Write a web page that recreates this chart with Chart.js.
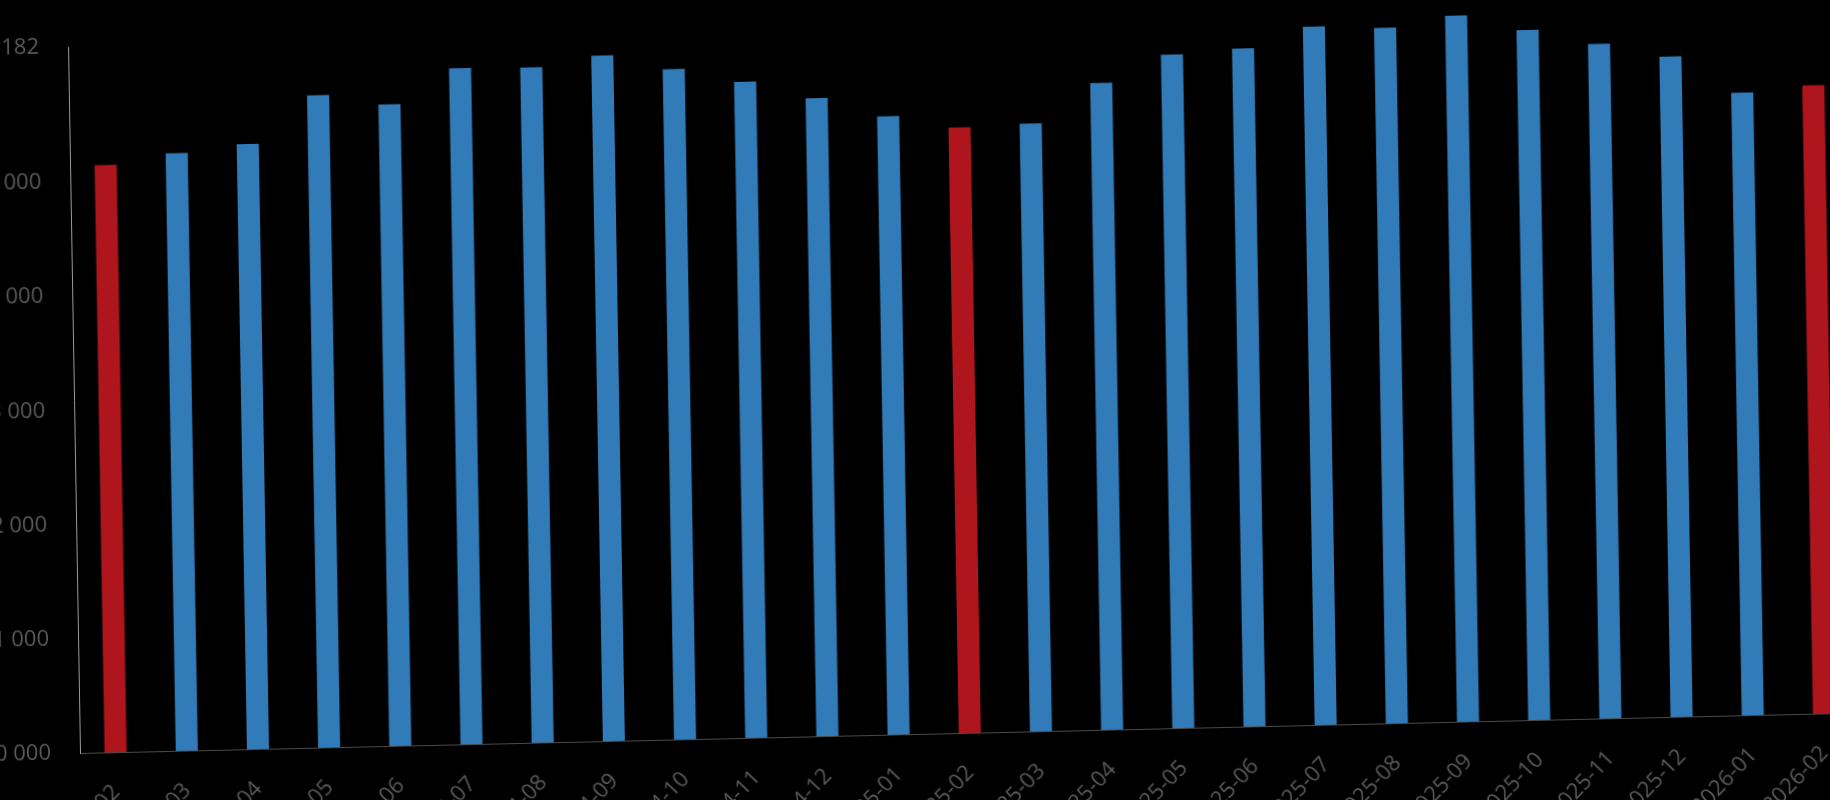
<!DOCTYPE html>
<html>
<head>
<meta charset="utf-8">
<title>Monthly count</title>
<script src="https://cdn.jsdelivr.net/npm/chart.js@4.4.1/dist/chart.umd.min.js"></script>
<style>
    html, body {
        margin: 0;
        padding: 0;
        background: #000;
        width: 1830px;
        height: 800px;
        overflow: hidden;
    }
    /* the reference is a slightly tilted shot of the chart,
       canvas is taller than the window so the labels get cut by the window edge */
    #wrap {
        position: absolute;
        left: 0;
        top: 0;
        width: 1900px;
        height: 880px;
        transform-origin: 80px 753px;
        transform: rotate(-1.3deg) skewX(-0.33deg);
    }
</style>
</head>
<body>
<div id="wrap">
    <canvas id="barChart" width="1900" height="880"></canvas>
</div>

<script>
// months shown on the x axis
const categories = [
    "2024-02", "2024-03", "2024-04", "2024-05", "2024-06", "2024-07",
    "2024-08", "2024-09", "2024-10", "2024-11", "2024-12", "2025-01",
    "2025-02", "2025-03", "2025-04", "2025-05", "2025-06", "2025-07",
    "2025-08", "2025-09", "2025-10", "2025-11", "2025-12", "2026-01",
    "2026-02"
];

// one value per month
const values = [
    15142, 15231, 15298, 15712, 15617, 15920,
    15912, 16003, 15869, 15744, 15587, 15414,
    15301, 15322, 15663, 15898, 15936, 16115,
    16091, 16182, 16042, 15906, 15781, 15451,
    15501
];

// y axis ticks (last one is the series max)
const yTicks = [10000, 11000, 12000, 13000, 14000, 15000, 16182];

const BLUE = "#317cb8";
const RED = "#ae151c";
const LABEL_GREY = "#5a5a5a";

// February bars are red, the rest blue
const barColors = categories.map(c => c.endsWith("-02") ? RED : BLUE);

const fmt = v => Math.round(v).toLocaleString("en-US").replace(/,/g, " ");

const ctx = document.getElementById("barChart");

new Chart(ctx, {
    type: "bar",
    data: {
        labels: categories,
        datasets: [{
            data: values,
            backgroundColor: barColors,
            borderWidth: 0,
            categoryPercentage: 1,
            barPercentage: 0.31
        }]
    },
    options: {
        responsive: false,
        animation: false,
        layout: {
            padding: { left: 0, top: 47, right: 40, bottom: 0 }
        },
        plugins: {
            legend: { display: false },
            tooltip: { enabled: false }
        },
        scales: {
            x: {
                offset: true,
                grid: { display: false, drawTicks: false },
                border: { display: true, color: "#4a4a4a", width: 1 },
                ticks: {
                    color: LABEL_GREY,
                    font: { family: "'Open Sans', sans-serif", size: 22 },
                    maxRotation: 45,
                    minRotation: 45,
                    autoSkip: false,
                    padding: 27
                },
                afterFit: scale => { scale.height = 127; }
            },
            y: {
                min: yTicks[0],
                max: yTicks[yTicks.length - 1],
                grid: { display: false, drawTicks: false },
                border: { display: true, color: "#9a9a9a", width: 1 },
                ticks: {
                    color: LABEL_GREY,
                    font: { family: "'Open Sans', sans-serif", size: 22 },
                    padding: 29,
                    autoSkip: false,
                    callback: v => fmt(v)
                },
                afterBuildTicks: scale => {
                    scale.ticks = yTicks.map(v => ({ value: v }));
                },
                afterFit: scale => { scale.width = 80; }
            }
        }
    }
});
</script>
</body>
</html>
